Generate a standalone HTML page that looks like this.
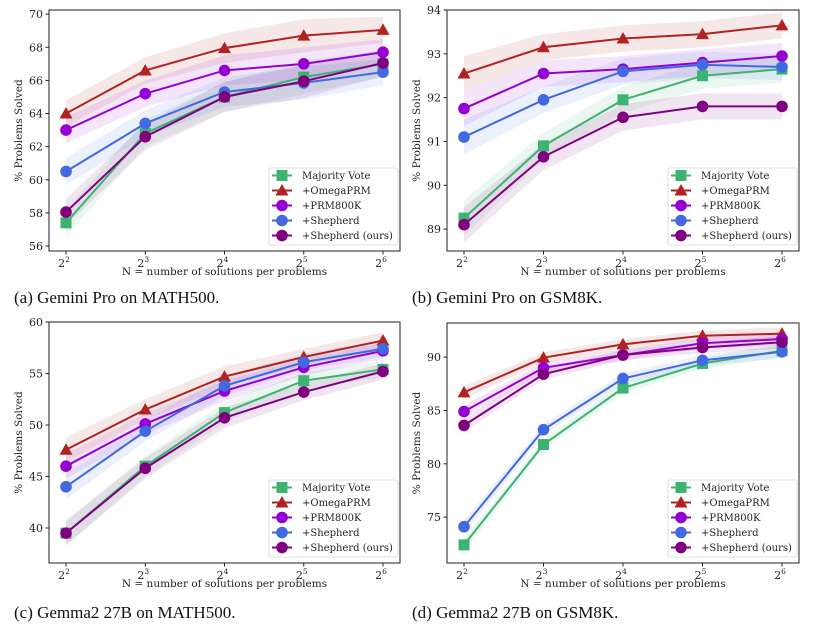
<!DOCTYPE html>
<html><head><meta charset="utf-8"><style>
body{margin:0;background:#fff;width:817px;height:631px;overflow:hidden}
svg text{font-family:"DejaVu Serif","Liberation Serif",serif;fill:#222}
.cap{font-family:"Liberation Serif",serif;font-size:17px;fill:#111}
</style></head><body>
<svg id="s" width="817" height="631"></svg>
<script>
const seriesNames=["Majority Vote","+OmegaPRM","+PRM800K","+Shepherd","+Shepherd (ours)"];
const xCategories=[2,3,4,5,6];
const aMV=[57.4,62.8,65.0,66.2,67.0],aOM=[64.0,66.6,67.95,68.7,69.05],aPR=[63.0,65.2,66.6,67.0,67.7],aSH=[60.5,63.4,65.3,65.85,66.5],aOU=[58.05,62.6,65.0,65.95,67.05];
const bMV=[89.25,90.9,91.95,92.5,92.65],bOM=[92.55,93.15,93.35,93.45,93.65],bPR=[91.75,92.55,92.65,92.8,92.95],bSH=[91.1,91.95,92.6,92.75,92.7],bOU=[89.1,90.65,91.55,91.8,91.8];
const cMV=[39.5,46.0,51.2,54.3,55.4],cOM=[47.6,51.5,54.7,56.6,58.2],cPR=[46.0,50.1,53.3,55.6,57.2],cSH=[44.0,49.4,53.8,56.1,57.4],cOU=[39.5,45.8,50.7,53.2,55.2];
const dMV=[72.4,81.8,87.1,89.4,90.6],dOM=[86.7,89.95,91.2,92.0,92.2],dPR=[84.9,89.0,90.2,91.3,91.7],dSH=[74.1,83.2,88.0,89.7,90.5],dOU=[83.6,88.4,90.2,90.9,91.4];
const aBand=[0.8,0.8,0.9,1.0,0.8],bBand=[0.4,0.3,0.3,0.3,0.3],cBand=[1.2,1.0,1.0,0.8,0.8],dBand=[0.6,0.5,0.5,0.5,0.6];
const aTicks=[56,58,60,62,64,66,68,70],bTicks=[89,90,91,92,93,94],cTicks=[40,45,50,55,60],dTicks=[75,80,85,90];
const colors=["#3cb371","#b22222","#9400d3","#4169e1","#800080"];
const markers=["square","tri","circle","circle","circle"];
const NS="http://www.w3.org/2000/svg",S=document.getElementById('s');
function el(t,a,p){const e=document.createElementNS(NS,t);for(const k in a)e.setAttribute(k,a[k]);(p||S).appendChild(e);return e;}
function marker(g,type,x,y,c){
  if(type==="square")return el('rect',{x:x-5.5,y:y-5.5,width:11,height:11,fill:c},g);
  if(type==="tri")return el('polygon',{points:`${x},${y-6.5} ${x-6.5},${y+5} ${x+6.5},${y+5}`,fill:c},g);
  return el('circle',{cx:x,cy:y,r:5.8,fill:c},g);
}
function panel(id,box,ymin,ymax,ticks,data,band,cap,capY){
  const [L,T,R,B]=box;
  const g=el('g',{});
  const xs=v=>L+17+(v-2)*((R-L-34)/4);
  const ys=v=>B-(v-ymin)/(ymax-ymin)*(B-T);
  data.forEach((d,i)=>{
    let up=d.map((v,j)=>xs(xCategories[j])+','+ys(v+band[j])).join(' ');
    let dn=d.map((v,j)=>xs(xCategories[j])+','+ys(v-band[j])).reverse().join(' ');
    const p=el('polygon',{points:up+' '+dn,fill:colors[i],'fill-opacity':0.1},g);
    
  });
  data.forEach((d,i)=>{
    const sg=el('g',{},g);
    
    
    el('polyline',{points:d.map((v,j)=>xs(xCategories[j])+','+ys(v)).join(' '),fill:'none',stroke:colors[i],'stroke-width':2},sg);
    d.forEach((v,j)=>marker(sg,markers[i],xs(xCategories[j]),ys(v),colors[i]));
  });
  el('rect',{x:L,y:T,width:R-L,height:B-T,fill:'none',stroke:'#222','stroke-width':1},g);
  ticks.forEach(t=>{
    el('line',{x1:L-3.5,x2:L,y1:ys(t),y2:ys(t),stroke:'#222'},g);
    const tx=el('text',{x:L-6,y:ys(t)+4,'font-size':11,'text-anchor':'end'},g);tx.textContent=t;
    
  });
  xCategories.forEach(c=>{
    const x=xs(c);el('line',{x1:x,x2:x,y1:B,y2:B+3.5,stroke:'#222'},g);
    const tx=el('text',{x:x-2,y:B+16,'font-size':11,'text-anchor':'middle'},g);
    tx.innerHTML='2<tspan dy="-5" font-size="7.5">'+c+'</tspan>';
    
  });
  const xl=el('text',{x:(L+R)/2,y:B+24,'font-size':10.5,'text-anchor':'middle'},g);xl.textContent='N = number of solutions per problems';
  
  const yl=el('text',{x:0,y:0,'font-size':10.5,'text-anchor':'middle',transform:`translate(${L-27},${(T+B)/2}) rotate(-90)`},g);yl.textContent='% Problems Solved';
  
  const lg=el('g',{},g);
  const lx=R-131,ly=B-83;
  el('rect',{x:lx,y:ly,width:129,height:77,rx:2,fill:'#fff','fill-opacity':0.85,stroke:'#ddd'},lg);
  seriesNames.forEach((n,i)=>{
    const y=ly+7.5+i*15;
    const e=el('g',{},lg);
    el('line',{x1:lx+3,x2:lx+23,y1:y,y2:y,stroke:colors[i],'stroke-width':2},e);
    marker(e,markers[i],lx+13,y,colors[i]);
    const t=el('text',{x:lx+33,y:y+3.5,'font-size':10},e);t.textContent=n;
  });
  const ct=el('text',{x:L-35,y:capY,class:'cap'});ct.textContent=cap;
  
}
panel('panel-a',[49,10,400,251],55.7,70.25,aTicks,[aMV,aOM,aPR,aSH,aOU],aBand,'(a) Gemini Pro on MATH500.',303);
panel('panel-b',[447,10,799,251],88.5,94.0,bTicks,[bMV,bOM,bPR,bSH,bOU],bBand,'(b) Gemini Pro on GSM8K.',303);
panel('panel-c',[49,322,400,563],36.6,60.0,cTicks,[cMV,cOM,cPR,cSH,cOU],cBand,'(c) Gemma2 27B on MATH500.',618);
panel('panel-d',[447,323,799,563],70.7,93.2,dTicks,[dMV,dOM,dPR,dSH,dOU],dBand,'(d) Gemma2 27B on GSM8K.',618);
</script>
</body></html>
